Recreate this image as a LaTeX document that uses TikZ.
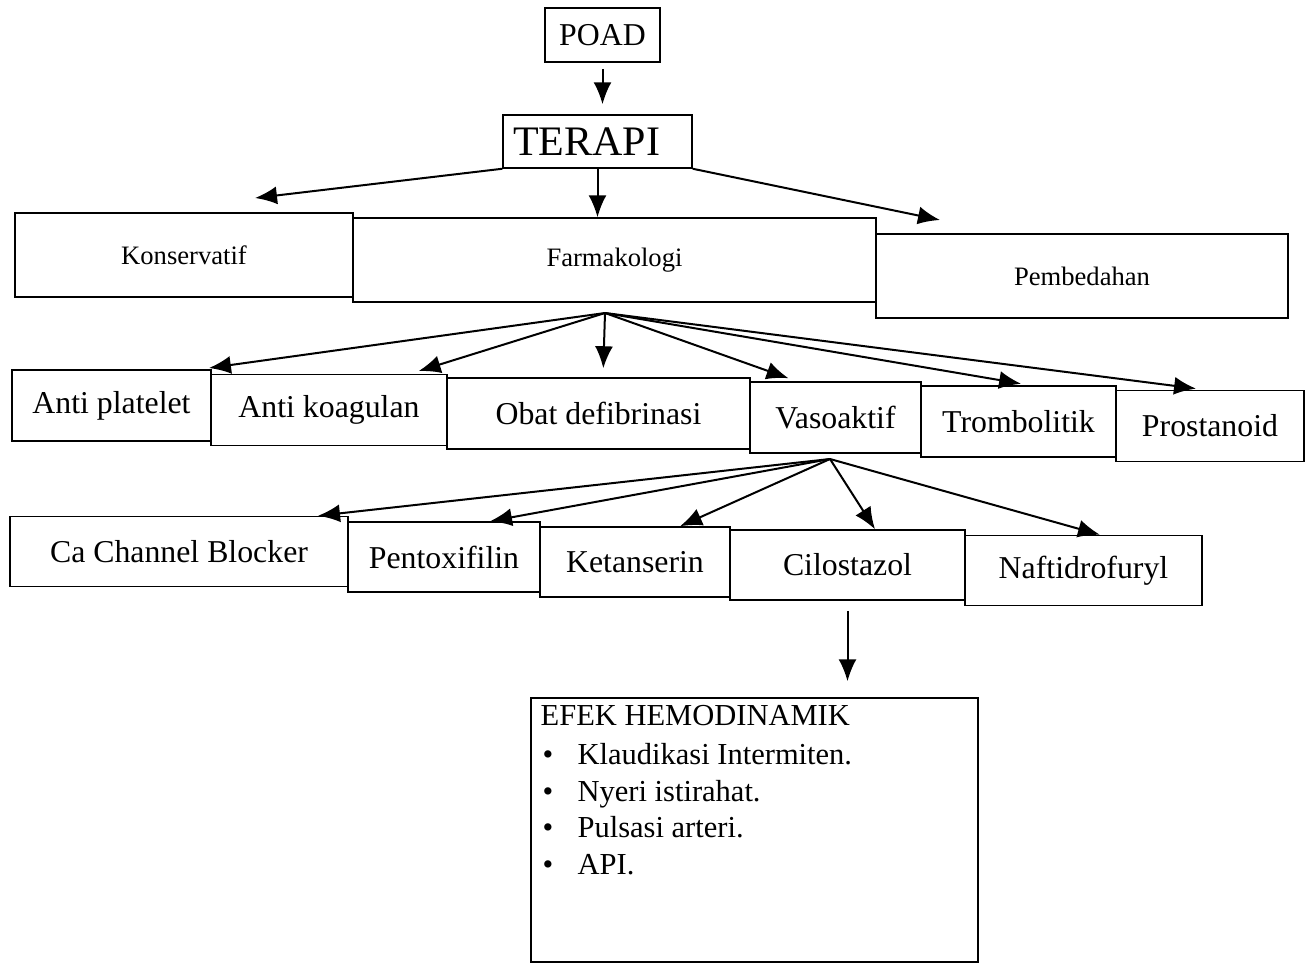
\documentclass[tikz,border=0pt]{standalone}
\usepackage{fontspec}
\setmainfont{Liberation Serif}
\usetikzlibrary{arrows.meta,calc}
\newcommand{\butir}{\makebox[18.5pt][l]{\hspace{1pt}\textbullet}}
\tikzset{
  box/.style={draw, line width=0.75pt, inner sep=0pt},
  toprow/.style={box, minimum height=42pt, font=\fontsize{13.3pt}{16pt}\selectfont},
  midrow/.style={box, minimum height=35.5pt, font=\fontsize{15.9pt}{19pt}\selectfont},
  lowrow/.style={box, minimum height=35pt, font=\fontsize{15.9pt}{19pt}\selectfont},
  arr/.style={-{Latex[length=11pt,width=9pt]}, line width=1pt},
}
\begin{document}
\begin{tikzpicture}[x=0.5pt,y=-0.5pt]
			\useasboundingbox (0,0) rectangle (1311,965);
			\node[box, minimum width=57.5pt, minimum height=27pt, font=\fontsize{15.9pt}{19pt}\selectfont] (poad) at (602.5,35) {POAD};
			\node[box, minimum height=26.5pt, text width=84.5pt, inner xsep=5pt, align=left, font=\fontsize{21pt}{25pt}\selectfont] (terapi) at (597.5,141.5) {TERAPI};
			\node[toprow, minimum width=169pt] (kons) at (184,255) {Konservatif};
			\node[toprow, minimum width=261.5pt] (farma) at (614.5,260) {Farmakologi};
			\node[toprow, minimum width=206pt] (bedah) at (1082,276) {Pembedahan};
			\node[midrow, minimum width=99.5pt] (antiplat) at (111.5,405.5) {Anti platelet};
			\node[midrow, minimum width=118pt] (antikoag) at (329,410) {Anti koagulan};
			\node[midrow, minimum width=151.5pt] (obat) at (598.5,413.5) {Obat defibrinasi};
			\node[midrow, minimum width=85.5pt] (vaso) at (835.5,417.5) {Vasoaktif};
			\node[midrow, minimum width=97.5pt] (tromb) at (1018.5,421.5) {Trombolitik};
			\node[midrow, minimum width=94pt] (prost) at (1210,426) {Prostanoid};
			\node[lowrow, minimum width=169pt] (cablock) at (179,551.5) {Ca Channel Blocker};
			\node[lowrow, minimum width=96pt] (pentox) at (444,557) {Pentoxifilin};
			\node[lowrow, minimum width=95pt] (ketan) at (635,562) {Ketanserin};
			\node[lowrow, minimum width=117.5pt] (cilo) at (847.5,565) {Cilostazol};
			\node[lowrow, minimum width=118.5pt] (nafti) at (1083.5,570.5) {Naftidrofuryl};
			\node[box, minimum width=223.5pt, minimum height=132pt] (efek) at (754.5,830) {};
			\node[anchor=north west, inner sep=0pt, align=left, font=\fontsize{15.25pt}{18.3pt}\selectfont] (efekisi) at ($(efek.north west)+(10,8)$) {EFEK HEMODINAMIK\\[1pt]
				\butir Klaudikasi Intermiten.\\
				\butir Nyeri istirahat.\\
				\butir Pulsasi arteri.\\
				\butir API.};
			\coordinate (farmout) at (605,313);
			\coordinate (vasoout) at (830,459);
			\coordinate (konsin) at (255,198);
			\coordinate (bedahin) at (940,220);
			\draw[arr, shorten <=3pt, shorten >=5pt] (poad.south) -- (poad.south |- terapi.north);
			\draw[arr] (terapi.south) -- (terapi.south |- farma.north);
			\draw[arr] (terapi.south west) -- (konsin);
			\draw[arr] (terapi.south east) -- (bedahin);
			\foreach \ujung/\geser in {antiplat/88.5, antikoag/81, obat/4.5, vaso/-38.5, tromb/11.5, prost/-5}
				\draw[arr, shorten >=4.5pt] (farmout) -- ($(\ujung.north)+(\geser,0)$);
			\foreach \ujung/\geser in {cablock/139, pentox/46, ketan/45, cilo/27.5, nafti/16.5}
				\draw[arr] (vasoout) -- ($(\ujung.north)+(\geser,0)$);
			\draw[arr, shorten <=5pt, shorten >=8pt] (cilo.south) -- (cilo.south |- efek.north);
		\end{tikzpicture}
\end{document}
